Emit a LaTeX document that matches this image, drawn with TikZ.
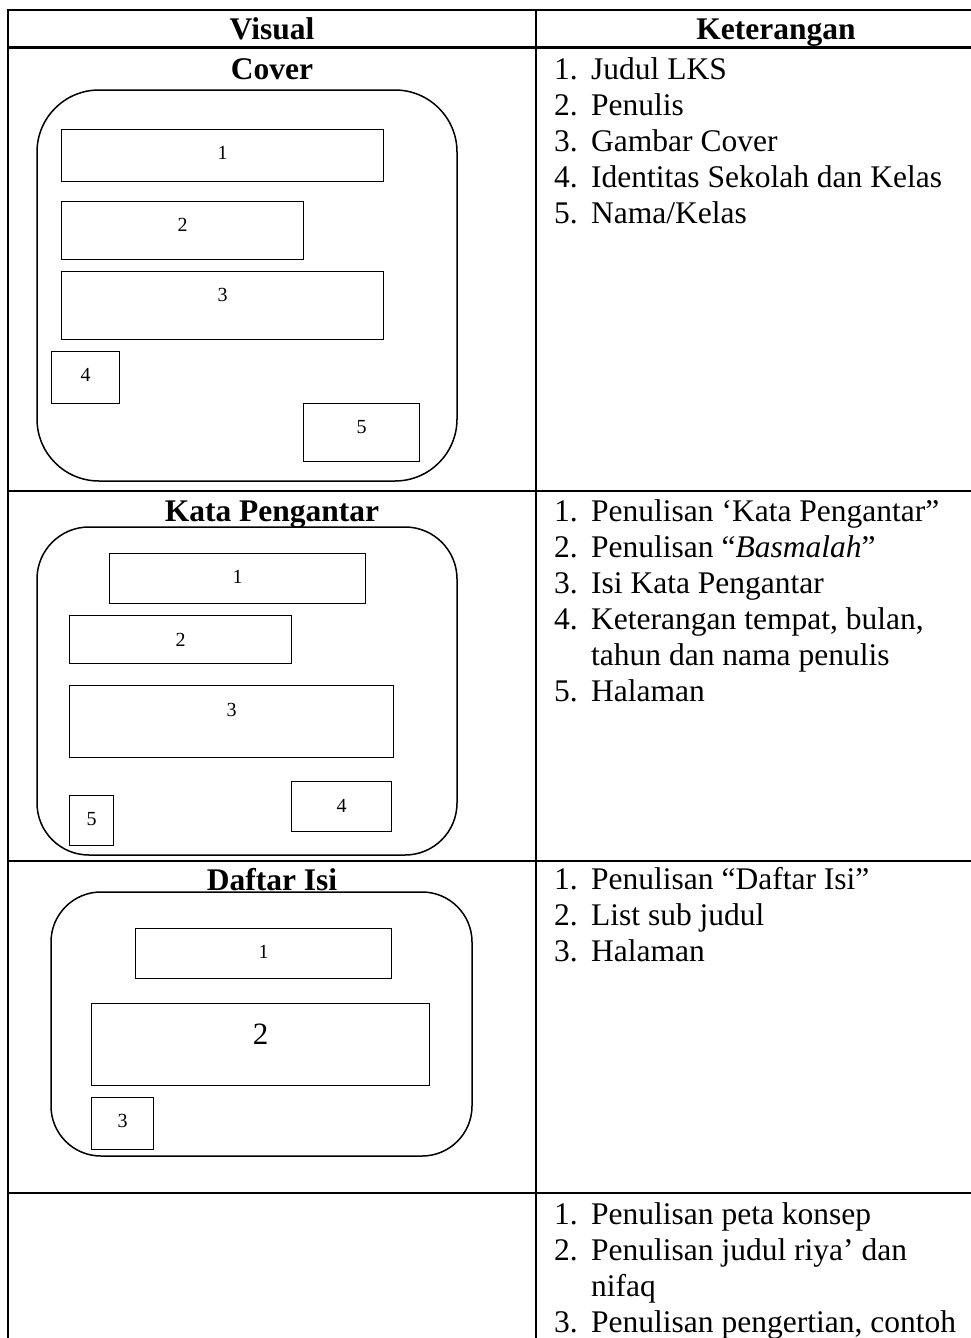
\documentclass[tikz,border=0pt]{standalone}
\usepackage{fontspec}
\setmainfont{Liberation Serif}
\begin{document}
\begin{tikzpicture}[x=1pt,y=-1pt,
  rule/.style={line width=2.2pt},
  page/.style={draw, line width=1.5pt},
  part/.style={draw, line width=1.3pt, anchor=north west, inner sep=0pt},
  tag/.style={font=\fontsize{20}{22}\selectfont},
  head/.style={font=\fontsize{31.5}{36}\selectfont\bfseries, anchor=base, inner sep=0pt},
  num/.style={font=\fontsize{31.5}{36}\selectfont, anchor=base west, inner sep=0pt},
  item/.style={font=\fontsize{31.5}{36}\selectfont, anchor=base west, inner sep=0pt},
]
% canvas
\path[fill=white] (0,0) rectangle (971,1338);
\useasboundingbox (0,0) rectangle (971,1338);

% table rules
\draw[rule] (8,1338) -- (8,10) -- (971,10);
\draw[rule] (536,10) -- (536,1338);
\foreach \yy in {47.5,491,861,1193} \draw[rule] (8,\yy) -- (971,\yy);

% header row
\node[head] (hv) at (272,40) {Visual};
\node[head] (hk) at (776,40) {Keterangan};

% ---------- Cover ----------
\node[head] (tcov) at (272,79) {Cover};
\draw[page, rounded corners=62pt] (37,90) rectangle (457,481);
\node[part, minimum width=322pt, minimum height=52pt,
      label={[tag, anchor=center, yshift=-24pt]north:1}] (cv1) at (61,129) {};
\node[part, minimum width=242pt, minimum height=58pt,
      label={[tag, anchor=center, yshift=-24pt]north:2}] (cv2) at (61,201) {};
\node[part, minimum width=322pt, minimum height=68pt,
      label={[tag, anchor=center, yshift=-24pt]north:3}] (cv3) at (61,271) {};
\node[part, minimum width=68pt, minimum height=52pt,
      label={[tag, anchor=center, yshift=-24pt]north:4}] (cv4) at (51,351) {};
\node[part, minimum width=116pt, minimum height=58pt,
      label={[tag, anchor=center, yshift=-24pt]north:5}] (cv5) at (303,403) {};

\foreach \n/\t [count=\i from 0] in {1./{Judul LKS}, 2./{Penulis}, 3./{Gambar Cover},
    4./{Identitas Sekolah dan Kelas}, 5./{Nama/Kelas}}{
  \node[num] (cn\i) at (554,79+36*\i) {\n};
  \node[item] (ct\i) at (591,79+36*\i) {\t};
}

% ---------- Kata Pengantar ----------
\node[head] (tkp) at (272,521) {Kata Pengantar};
\draw[page, rounded corners=52pt] (37,527) rectangle (457,855);
\node[part, minimum width=256pt, minimum height=50pt,
      label={[tag, anchor=center, yshift=-24pt]north:1}] (kp1) at (109,553) {};
\node[part, minimum width=222pt, minimum height=48pt,
      label={[tag, anchor=center, yshift=-25pt]north:2}] (kp2) at (69,615) {};
\node[part, minimum width=324pt, minimum height=72pt,
      label={[tag, anchor=center, yshift=-25pt]north:3}] (kp3) at (69,685) {};
\node[part, minimum width=100pt, minimum height=50pt,
      label={[tag, anchor=center, yshift=-25pt]north:4}] (kp4) at (291,781) {};
\node[part, minimum width=44pt, minimum height=50pt,
      label={[tag, anchor=center, yshift=-24pt]north:5}] (kp5) at (69,795) {};

\node[num] (kn1) at (554,521) {1.};
\node[item] (kt1) at (591,521) {Penulisan ‘Kata Pengantar”};
\node[num] (kn2) at (554,557) {2.};
\node[item] (kt2) at (591,557) {Penulisan “\textit{Basmalah}”};
\node[num] (kn3) at (554,593) {3.};
\node[item] (kt3) at (591,593) {Isi Kata Pengantar};
\node[num] (kn4) at (554,629) {4.};
\node[item] (kt4) at (591,629) {Keterangan tempat, bulan,};
\node[item] (kt4b) at (591,665) {tahun dan nama penulis};
\node[num] (kn5) at (554,701) {5.};
\node[item] (kt5) at (591,701) {Halaman};

% ---------- Daftar Isi ----------
\node[head] (tdi) at (272,890) {Daftar Isi};
\draw[page, rounded corners=50pt] (51,892) rectangle (472,1156);
\node[part, minimum width=256pt, minimum height=50pt,
      label={[tag, anchor=center, yshift=-24pt]north:1}] (di1) at (135,928) {};
\node[part, minimum width=338pt, minimum height=82pt,
      label={[font=\fontsize{31}{34}\selectfont, anchor=center, yshift=-31pt]north:2}] (di2) at (91,1003) {};
\node[part, minimum width=62pt, minimum height=52pt,
      label={[tag, anchor=center, yshift=-24pt]north:3}] (di3) at (91,1097) {};

\foreach \n/\t [count=\i from 0] in {1./{Penulisan “Daftar Isi”}, 2./{List sub judul}, 3./{Halaman}}{
  \node[num] (dn\i) at (554,889+36*\i) {\n};
  \node[item] (dt\i) at (591,889+36*\i) {\t};
}

% ---------- next page (cut off) ----------
\node[num] (pn1) at (554,1224) {1.};
\node[item] (pt1) at (591,1224) {Penulisan peta konsep};
\node[num] (pn2) at (554,1260) {2.};
\node[item] (pt2) at (591,1260) {Penulisan judul riya’ dan};
\node[item] (pt2b) at (591,1296) {nifaq};
\node[num] (pn3) at (554,1332) {3.};
\node[item] (pt3) at (591,1332) {Penulisan pengertian, contoh};
\end{tikzpicture}
\end{document}
